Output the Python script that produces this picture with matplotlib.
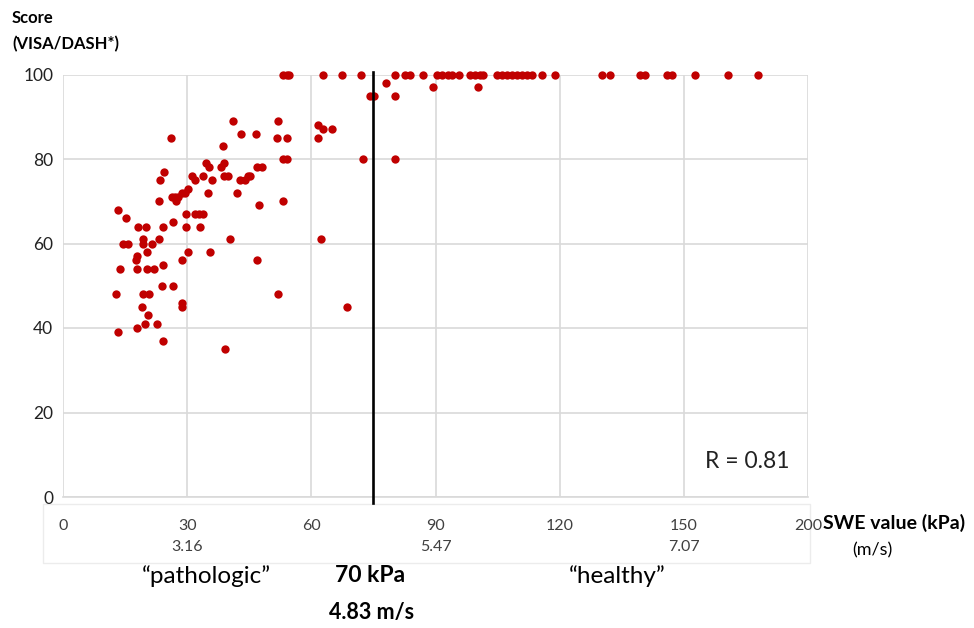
import matplotlib.pyplot as plt
from matplotlib.patches import Rectangle

plt.rcParams["font.family"] = ["Lato", "DejaVu Sans"]

# SWE value (kPa) and score (VISA/DASH) for patients below the ceiling
swe_kpa = [
    13.3, 15.2, 14.5, 15.7, 13.8, 12.8, 13.3,
    18.1, 20.0, 19.3, 19.3, 21.5, 23.2,
    17.9, 17.6, 20.3, 17.9, 20.3, 22.0, 24.2,
    23.9, 26.6, 19.3, 20.8, 19.1, 20.5, 17.9, 19.8, 22.7, 24.2,
    24.2, 26.6, 29.7, 31.9, 32.9, 33.8, 29.7, 33.1,
    30.2, 35.5, 28.7, 28.7, 28.7,
    23.2, 27.3, 26.3, 27.1, 27.8, 28.7, 29.5, 30.2,
    24.4, 23.4, 26.1, 31.2, 31.9, 33.8, 36.0,
    34.5, 38.9, 35.2, 38.2, 38.9, 39.9,
    42.8, 44.0, 44.7, 45.2, 35.0, 42.0,
    38.6, 41.1, 43.0, 46.6, 51.7, 54.1, 52.0,
    46.9, 48.1, 47.3, 53.1, 53.1, 54.1,
    40.3, 46.9, 39.1, 51.9,
    61.6, 62.8, 65.0, 61.6, 62.3, 68.6, 72.5,
    74.2, 75.1, 80.2, 78.0, 89.4, 100.2, 80.2,
]
score = [
    68, 66, 60, 60, 54, 48, 39,
    64, 64, 61, 60, 60, 61,
    57, 56, 58, 54, 54, 54, 55,
    50, 50, 48, 48, 45, 43, 40, 41, 41, 37,
    64, 65, 67, 67, 67, 67, 64, 64,
    58, 58, 56, 46, 45,
    70, 70, 71, 71, 71, 72, 72, 73,
    77, 75, 85, 76, 75, 76, 75,
    79, 79, 78, 78, 76, 76,
    75, 75, 76, 76, 72, 72,
    83, 89, 86, 86, 85, 85, 89,
    78, 78, 69, 70, 80, 80,
    61, 56, 35, 48,
    88, 87, 87, 85, 61, 45, 80,
    95, 95, 95, 98, 97, 97, 80,
]

# SWE values (kPa) of patients with the maximum score of 100
full_score_kpa = [
    53.1, 54.1, 54.6, 62.8, 67.4, 72.0, 80.2, 82.6, 83.8, 87.0,
    90.3, 91.5, 93.0, 94.0, 95.7, 98.3, 99.5, 100.7, 101.4,
    104.8, 106.0, 107.2, 108.5, 109.7, 110.9, 112.1, 113.3, 115.7,
    118.8, 130.2, 132.1, 139.4, 140.6, 145.9, 147.1, 152.7, 160.6, 167.9,
]
full_score = [100] * len(full_score_kpa)

cutoff_line_kpa = 75
x_ticks = [0, 30, 60, 90, 120, 150, 180]
x_tick_labels = ["0", "30", "60", "90", "120", "150", "200"]
speed_ticks = [30, 90, 150]
speed_labels = ["3.16", "5.47", "7.07"]
y_ticks = [0, 20, 40, 60, 80, 100]
r_value = 0.81

W, H = 974, 628
fig = plt.figure(figsize=(W / 100, H / 100), dpi=100)

# white pasted label box below the axis
fig.patches.append(Rectangle((43 / W, 1 - 563 / H), (810 - 43) / W, (563 - 504) / H,
                             transform=fig.transFigure, facecolor="white",
                             edgecolor="#ececec", lw=1, zorder=0))

ax = fig.add_axes([63 / W, 1 - 497 / H, (808 - 63) / W, (497 - 74.5) / H])
ax.set_zorder(2)
ax.patch.set_alpha(0)
ax.set_xlim(0, 180)
ax.set_ylim(0, 100)
ax.grid(color="#d9d9d9", lw=1.2)
ax.set_axisbelow(True)
for side in ["top", "right", "left"]:
    ax.spines[side].set_visible(False)
ax.spines["bottom"].set_color("#d9d9d9")
ax.spines["bottom"].set_linewidth(1.2)

ax.scatter(swe_kpa, score, s=36, color="#c00000", lw=0, zorder=3, clip_on=False)
ax.scatter(full_score_kpa, full_score, s=36, color="#c00000", lw=0, zorder=3, clip_on=False)

xt = ax.get_xaxis_transform()
ax.plot([cutoff_line_kpa, cutoff_line_kpa], [-0.015, 1.005], transform=xt,
        color="black", lw=1.9, clip_on=False, zorder=4)

ax.set_xticks(x_ticks, x_tick_labels)
ax.set_yticks(y_ticks)
ax.tick_params(axis="x", length=0, pad=16, labelsize=11.5, labelcolor="#404040")
ax.tick_params(axis="y", length=0, pad=7, labelsize=12.5, labelcolor="#222222")
for v, lab in zip(speed_ticks, speed_labels):
    ax.text(v, -0.118, lab, transform=xt, ha="center", va="center",
            fontsize=11.5, color="#404040")

ax.text(0.919, 0.085, f"R = {r_value:.2f}", transform=ax.transAxes,
        ha="center", va="center", fontsize=16.5, color="#222222")

fig.text(12 / W, 1 - 18 / H, "Score", fontsize=12, fontweight="bold", va="center")
fig.text(12 / W, 1 - 44 / H, "(VISA/DASH*)", fontsize=12, fontweight="bold", va="center")
fig.text(823 / W, 1 - 523 / H, "SWE value (kPa)", fontsize=14, fontweight="bold", va="center")
fig.text(852 / W, 1 - 550 / H, "(m/s)", fontsize=13, va="center")
fig.text(206 / W, 1 - 576 / H, "\u201cpathologic\u201d", fontsize=17.5, ha="center", va="center")
fig.text(617 / W, 1 - 576 / H, "\u201chealthy\u201d", fontsize=17.5, ha="center", va="center")
fig.text(370 / W, 1 - 576 / H, "70 kPa", fontsize=16.5, fontweight="bold", ha="center", va="center")
fig.text(372 / W, 1 - 612 / H, "4.83 m/s", fontsize=15.5, fontweight="bold", ha="center", va="center")

fig.savefig("out.png", dpi=100)
